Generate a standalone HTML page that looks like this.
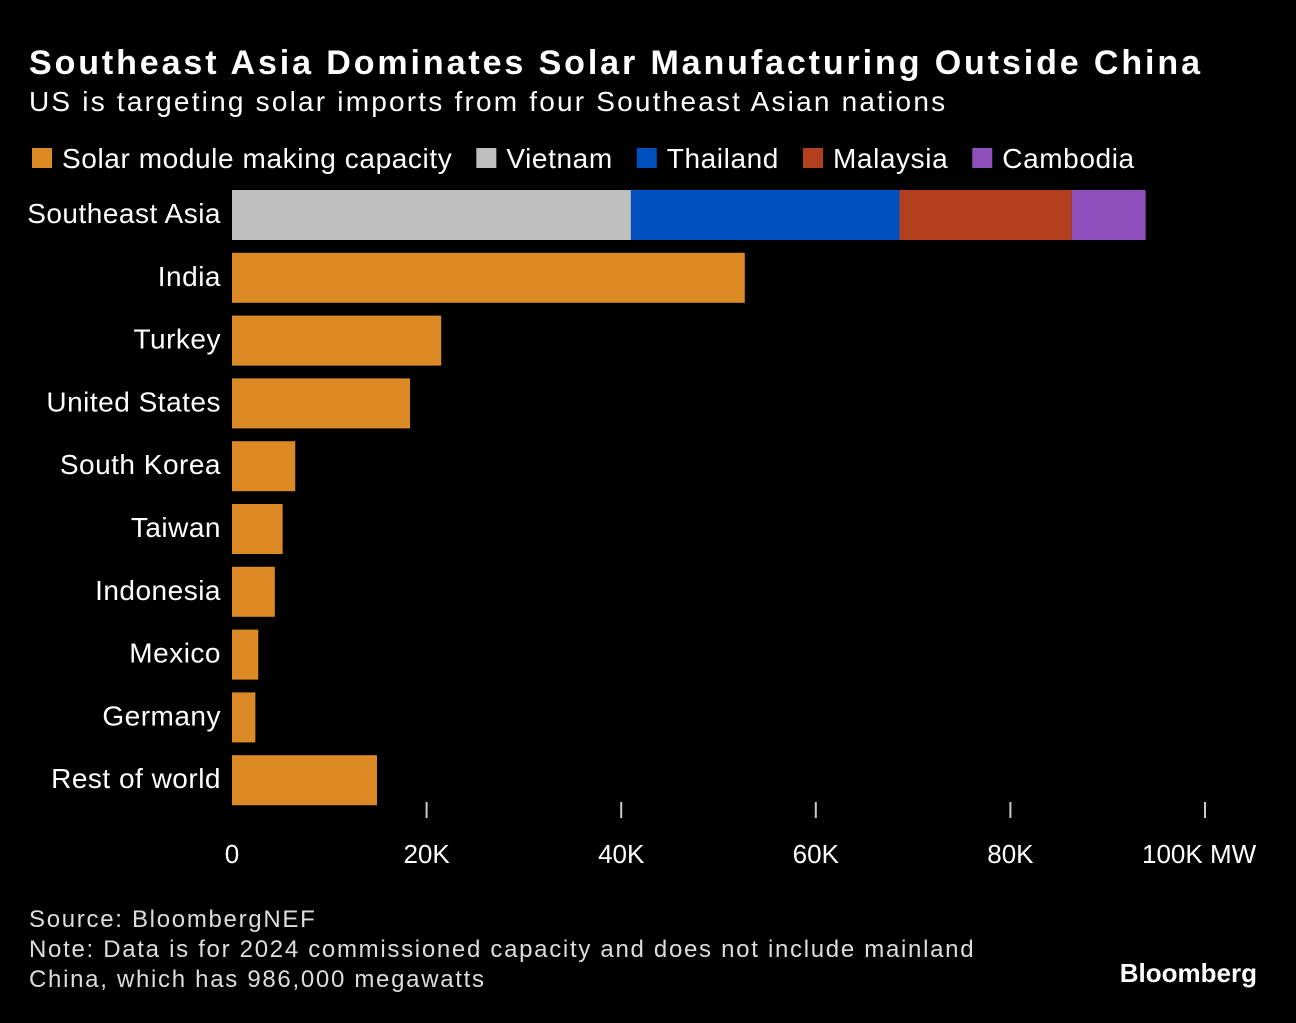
<!DOCTYPE html>
<html><head><meta charset="utf-8"><style>
body{margin:0;background:#000;width:1296px;height:1018px;overflow:hidden;font-family:"Liberation Sans",sans-serif;color:#fff}
svg text{font-family:"Liberation Sans",sans-serif}
</style></head><body>
<svg id="c" width="1296" height="1018">
<text x="29" y="74" font-size="34" font-weight="bold" fill="#fff" letter-spacing="2.9">Southeast Asia Dominates Solar Manufacturing Outside China</text>
<text x="29" y="111" font-size="28" fill="#fff" letter-spacing="2.2">US is targeting solar imports from four Southeast Asian nations</text>
<g id="legend"></g>
<g id="bars"></g>
<g id="axis"></g>
<text x="29" y="927" font-size="24" fill="#ddd" letter-spacing="1.7">Source: BloombergNEF</text>
<text x="29" y="957" font-size="24" fill="#ddd" letter-spacing="1.7">Note: Data is for 2024 commissioned capacity and does not include mainland</text>
<text x="29" y="987" font-size="24" fill="#ddd" letter-spacing="1.7">China, which has 986,000 megawatts</text>
<text x="1257" y="982" font-size="26" font-weight="bold" fill="#fff" text-anchor="end">Bloomberg</text>
</svg>
<script>
const categories=["Southeast Asia","India","Turkey","United States","South Korea","Taiwan","Indonesia","Mexico","Germany","Rest of world"];
const capacity=[0,52.7,21.5,18.3,6.5,5.2,4.4,2.7,2.4,14.9];
const seaNames=["Vietnam","Thailand","Malaysia","Cambodia"];
const seaValues=[41.0,27.6,17.7,7.6];
const ticks=[0,20,40,60,80,100];
const tickLabels=["0","20K","40K","60K","80K","100K MW"];
const seaColors=["#bfbfbf","#0050c0","#b2401e","#8e4fbd"];
const orange="#dc8a26";
const NS="http://www.w3.org/2000/svg";
const x=v=>232+v*9.73;
const y=i=>190+i*62.8;
const bh=50;
function mk(tag,attrs,parent){const e=document.createElementNS(NS,tag);for(const k in attrs)e.setAttribute(k,attrs[k]);parent.appendChild(e);return e;}
const bars=document.getElementById('bars');
categories.forEach((c,i)=>{
  const t=mk('text',{x:221,y:y(i)+33,'font-size':28,fill:'#fff','text-anchor':'end','letter-spacing':0.5},bars);
  t.textContent=c;
  
  
  if(i===0){
    let acc=0;
    seaValues.forEach((v,j)=>{
      const r=mk('rect',{x:x(acc),y:y(i),width:x(acc+v)-x(acc),height:bh,fill:seaColors[j]},bars);
      
      
      acc+=v;
    });
  }else{
    const r=mk('rect',{x:x(0),y:y(i),width:x(capacity[i])-x(0),height:bh,fill:orange},bars);
    
    
  }
});
const axis=document.getElementById('axis');
ticks.forEach((v,i)=>{
  if(i>0){const l=mk('line',{x1:x(v),x2:x(v),y1:802,y2:818,stroke:'#ccc','stroke-width':2},axis);
  
  }
  const t=mk('text',{x:i===5?x(v)-63:x(v),y:863,'font-size':26,fill:'#fff','text-anchor':i===5?'start':'middle'},axis);
  t.textContent=tickLabels[i];
  
  
});
const legend=document.getElementById('legend');
const lnames=["Solar module making capacity"].concat(seaNames);
const lcols=[orange].concat(seaColors);
let lx=32;
lnames.forEach((n,i)=>{
  const r=mk('rect',{x:lx,y:148,width:20,height:20,fill:lcols[i]},legend);
  
  
  const t=mk('text',{x:lx+30,y:168,'font-size':28,fill:'#fff','letter-spacing':0.6},legend);
  t.textContent=n;
  
  
  lx+=30+t.getComputedTextLength()+24;
});
</script>
</body></html>
